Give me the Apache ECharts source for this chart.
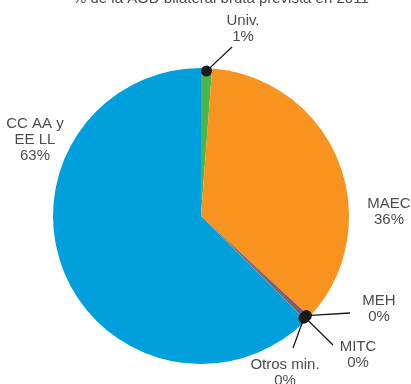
<!DOCTYPE html>
<html>
<head>
<meta charset="utf-8">
<script src="https://cdn.jsdelivr.net/npm/echarts@6/dist/echarts.min.js"></script>
<style>html,body{margin:0;padding:0;background:#fff}#c{width:411px;height:384px}</style>
</head>
<body>
<div id="c"></div>
<script>
var titleText = '% de la AOD bilateral bruta prevista en 2011';
var categories = ['Univ.', 'MAEC', 'MEH', 'MITC', 'Otros min.', 'CC AA y\nEE LL'];
var values = [1.2, 35.7, 0.3, 0.2, 0.1, 62.5];
var colors = ['#4cb648', '#f7931e', '#7b4f7e', '#5a5a5a', '#6b5a3a', '#00a0dc'];

var labelPlace = [
  {x: 243, y: 29},
  {x: 389, y: 212},
  {x: 379, y: 309},
  {x: 358, y: 355},
  {x: 285, y: 373},
  {x: 35, y: 140}
];
var leaderEnds = [[232, 47], null, [350, 313], [333, 345], [293, 348], null];

var chart = echarts.init(document.getElementById('c'), null, {renderer: 'canvas'});
var txtStyle = {color: '#4d4d4d', fontSize: 15, lineHeight: 16, fontFamily: 'Liberation Sans, Arial, sans-serif'};

chart.setOption({
  animation: false,
  title: {
    text: titleText, left: 68, top: -14,
    textStyle: {color: '#4d4d4d', fontSize: 15, fontWeight: 'normal', fontFamily: 'Liberation Sans, Arial, sans-serif'}
  },
  series: [{
    type: 'pie',
    center: [201, 216],
    radius: 148,
    startAngle: 90,
    clockwise: true,
    avoidLabelOverlap: false,
    minAngle: 0,
    itemStyle: {borderWidth: 0},
    emphasis: {disabled: true},
    label: Object.assign({
      show: true, position: 'outside',
      formatter: function (p) { return p.name + '\n' + Math.round(p.value) + '%'; },
      align: 'center'
    }, txtStyle),
    labelLine: {show: false},
    labelLayout: function (p) {
      var lp = labelPlace[p.dataIndex];
      return {x: lp.x, y: lp.y, align: 'center', verticalAlign: 'middle'};
    },
    data: categories.map(function (c, i) {
      return {name: c, value: values[i], itemStyle: {color: colors[i]}};
    })
  }]
});

// Leader lines + dots derived from the pie's computed layout
var data = chart.getModel().getSeriesByIndex(0).getData();
var g = [];
var dots = [];
for (var i = 0; i < categories.length; i++) {
  var le = leaderEnds[i];
  if (!le) continue;
  var L = data.getItemLayout(i);
  var mid = (L.startAngle + L.endAngle) / 2;
  var rr = L.r - 3;
  var px = L.cx + rr * Math.cos(mid), py = L.cy + rr * Math.sin(mid);
  g.push({type: 'line', shape: {x1: px, y1: py, x2: le[0], y2: le[1]}, style: {stroke: '#1a1a1a', lineWidth: 1.3}, z: 10});
  dots.push({type: 'circle', shape: {cx: px, cy: py, r: 5.5}, style: {fill: '#1a1a1a'}, z: 11});
}
chart.setOption({graphic: {elements: g.concat(dots)}});
</script>
</body>
</html>
